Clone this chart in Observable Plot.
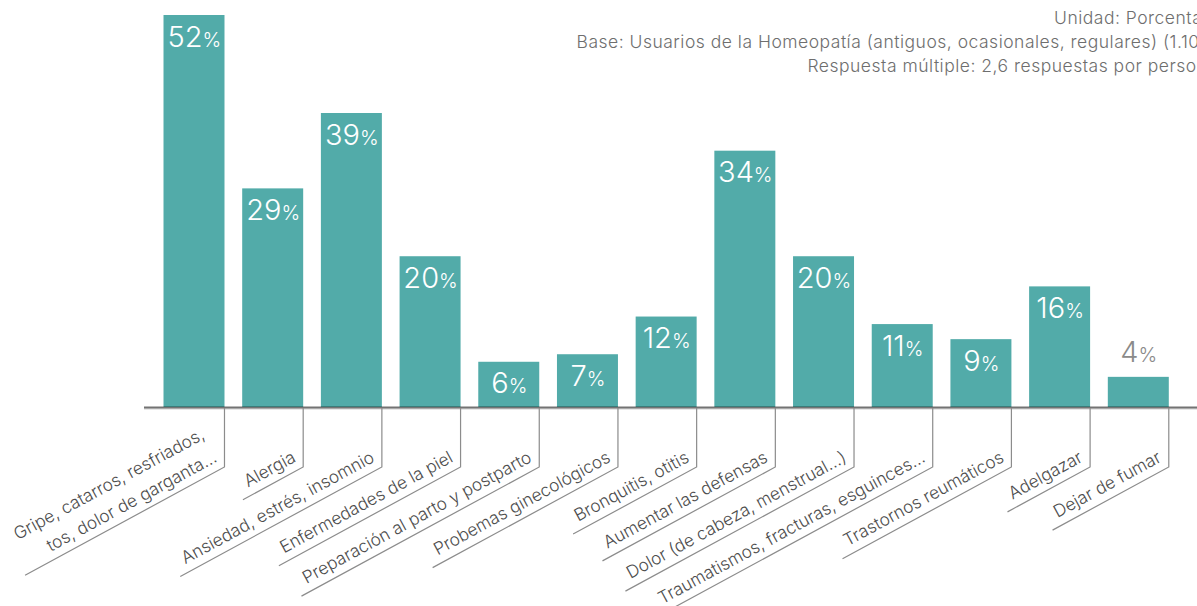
<!DOCTYPE html>
<html><head><meta charset="utf-8">
<script src="https://cdn.jsdelivr.net/npm/d3@7"></script>
<script src="https://cdn.jsdelivr.net/npm/@observablehq/plot@0.6"></script>
<style>
html,body{margin:0;padding:0;background:#fff;overflow:hidden;}
#chart svg{overflow:hidden;display:block;}
</style></head><body><div id="chart"></div>
<script>
const categories = [
  "Gripe, catarros, resfriados,\ntos, dolor de garganta...",
  "Alergia",
  "Ansiedad, estrés, insomnio",
  "Enfermedades de la piel",
  "Preparación al parto y postparto",
  "Probemas ginecológicos",
  "Bronquitis, otitis",
  "Aumentar las defensas",
  "Dolor (de cabeza, menstrual...)",
  "Traumatismos, fracturas, esguinces...",
  "Trastornos reumáticos",
  "Adelgazar",
  "Dejar de fumar"
];
const values = [52, 29, 39, 20, 6, 7, 12, 34, 20, 11, 9, 16, 4];
const notes = [
  "Unidad: Porcentaje",
  "Base: Usuarios de la Homeopatía (antiguos, ocasionales, regulares) (1.100)",
  "Respuesta múltiple: 2,6 respuestas por persona"
];

const data = categories.map((c, i) => ({cat: c, value: values[i]}));
const FONT = "Inter, Roboto, 'Liberation Sans', sans-serif";
const ANGLE = 28.5;

const chart = Plot.plot({
  width: 1197, height: 606,
  marginTop: 15, marginBottom: 199, marginLeft: 144, marginRight: 0,
  style: {fontFamily: FONT, background: "#fff", overflow: "hidden"},
  x: {type: "band", domain: categories, range: [145.8, 1186.5], padding: 0.225, round: false, axis: null},
  y: {domain: [0, 52], axis: null},
  marks: [
    Plot.barY(data, {x: "cat", y: "value", fill: "#52aba9"}),
    Plot.ruleY([0], {stroke: "#d0d0d0", strokeWidth: 1, dy: 1.5}),
    Plot.ruleY([0], {stroke: "#000", strokeOpacity: 0.55, strokeWidth: 2}),
    Plot.text(data.filter(d => d.value >= 5), {x: "cat", y: "value", text: d => d.value + "%", lineAnchor: "bottom", dy: 31, fill: "#fff", fontSize: 29, fontWeight: 300}),
    Plot.text(data.filter(d => d.value < 5), {x: "cat", y: "value", text: d => d.value + "%", lineAnchor: "bottom", dy: -15, fill: "#8a8a8a", fontSize: 29, fontWeight: 300}),
    Plot.text(categories, {x: d => d, frameAnchor: "bottom", text: d => d, rotate: -ANGLE, textAnchor: "end", lineAnchor: "bottom", dx: 23.6, dy: 53.5, fontSize: 17.3, fontWeight: 300, fill: "#4d4d4d", lineHeight: 1.5, ariaDescription: "labels"}),
    Plot.text([notes.join("\n")], {frameAnchor: "top-right", text: d => d, textAnchor: "end", lineAnchor: "top", dx: 20, dy: -9, fontSize: 17.5, fontWeight: 300, fill: "#6e6e6e", lineHeight: 24 / 17.5, ariaDescription: "notes"})
  ]
});
document.getElementById("chart").append(chart);

const svg = d3.select(chart);
svg.selectAll("g[aria-description='notes']").attr("letter-spacing", 0.5);
// smaller percent sign
svg.selectAll("text").each(function() {
  const t = this.textContent;
  const m = /^(\d+)%$/.exec(t);
  if (m) {
    this.textContent = m[1];
    d3.select(this).append("tspan").attr("font-size", 20).text("%");
  }
});
// leader lines for the category labels
const xs = chart.scale("x");
const a = ANGLE * Math.PI / 180;
const leaders = svg.append("g").attr("fill", "none").attr("stroke", "#8c8c8c").attr("stroke-width", 1.2);
svg.selectAll("g[aria-description='labels'] text").each(function(d, i) {
  const w = this.getBBox().width;
  const xr = xs.apply(categories[i]) + xs.bandwidth;
  const y0 = 408, y1 = 467;
  const L = w + 13;
  leaders.append("path").attr("d", `M${xr},${y0}V${y1}L${xr - L * Math.cos(a)},${y1 + L * Math.sin(a)}`);
});
</script></body></html>
